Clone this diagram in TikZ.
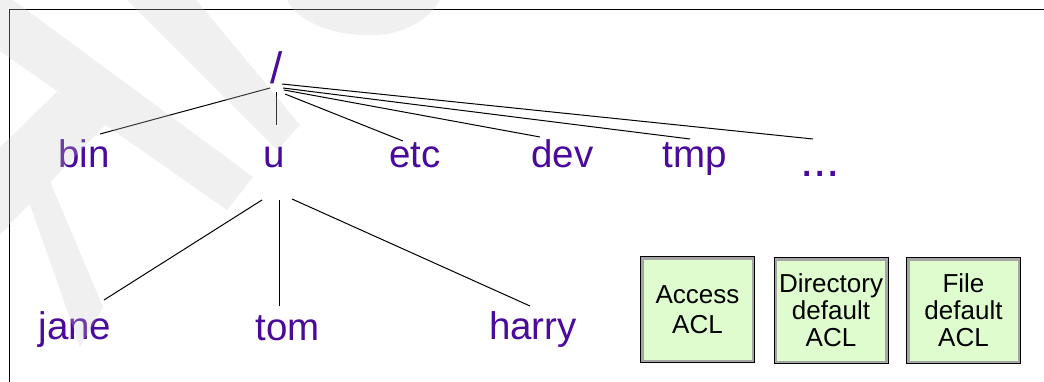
\documentclass[tikz,border=0pt]{standalone}
\usepackage{fontspec}
\setmainfont{Liberation Sans}
\definecolor{dirviolet}{RGB}{74,10,156}
\definecolor{aclfill}{RGB}{222,252,206}
\definecolor{bevel}{RGB}{165,165,165}
\definecolor{haze}{RGB}{200,200,200}
\begin{document}
\begin{tikzpicture}[x=1pt,y=-1pt,
  dirname/.style={text=dirviolet, font=\fontsize{38.5}{40}\selectfont, anchor=base, inner sep=0pt},
  link/.style={draw=black, line width=1pt},
  aclbox/.style={draw=black, line width=2pt, fill=aclfill, minimum width=113pt,
    minimum height=105pt, align=center, font=\fontsize{26}{27}\selectfont, inner sep=0pt},
]
\useasboundingbox (0,0) rectangle (1044,382);
\fill[white] (0,0) rectangle (1044,382);
% frame
\draw[line width=1pt] (9,382) -- (9,10) -- (1044,10);

% directory names
\node[dirname, font=\fontsize{44}{46}\selectfont] (root) at (277,84) {/};
\node[dirname] (bin) at (84,168) {bin};
\node[dirname] (u) at (274.5,168) {u};
\node[dirname] (etc) at (415,168) {etc};
\node[dirname] (dev) at (562.5,168) {dev};
\node[dirname] (tmp) at (694.5,168) {tmp};
\node[dirname, font=\fontsize{48}{50}\selectfont] (more) at (820,177) {...};
\node[dirname] (jane) at (75,339) {jane};
\node[dirname] (tom) at (287.5,340) {tom};
\node[dirname] (harry) at (533,339) {harry};

% links from the root
\draw[link] ([shift={(-7,4)}]root.base) -- ([shift={(16,-34)}]bin.base);
\draw[link] ([shift={(-1,8)}]root.base) -- ([shift={(1.5,-43)}]u.base);
\draw[link] ([shift={(8,10)}]root.base) -- ([shift={(-12,-27)}]etc.base);
\draw[link] ([shift={(7,6)}]root.base) -- ([shift={(-22.5,-31)}]dev.base);
\draw[link] ([shift={(6,4)}]root.base) -- ([shift={(-4.5,-29)}]tmp.base);
\draw[link] ([shift={(5,0)}]root.base) -- ([shift={(-7,-38)}]more.base);

% links from u
\draw[link] ([shift={(-12.5,32)}]u.base) -- ([shift={(29,-39)}]jane.base);
\draw[link] ([shift={(4.5,32)}]u.base) -- ([shift={(-8.5,-34)}]tom.base);
\draw[link] ([shift={(17.5,31)}]u.base) -- ([shift={(-3,-33)}]harry.base);

% ACL boxes
\node[aclbox, font=\fontsize{26}{30}\selectfont] (acc) at (697.5,309.5) {Access\\ACL};
\node[aclbox] (dir) at (831,310.5) {Directory\\default\\ACL};
\node[aclbox] (fil) at (963.5,310.5) {File\\default\\ACL};
\foreach \b in {acc,dir,fil}
  \draw[bevel, line width=2.5pt] ([shift={(2.25,2.25)}]\b.north west) rectangle ([shift={(-2.25,-2.25)}]\b.south east);

% faint diagonal marks lying over the drawing
\begin{scope}
\clip (0,0) rectangle (1044,382);
\fill[haze, opacity=0.27, nonzero rule]
  (-10,-17) -- (253,177) -- (227,210) -- (-10,44) -- cycle
  (122,-5) -- (192,-5) -- (300,125) -- (277,150) -- cycle
  (57,92) -- (107,123) -- (-10,245) -- (-10,157) -- cycle
  (46,172) -- (103,307) -- (80,347) -- (26,193) -- cycle
  (440,0) .. controls (432,15) and (410,33) .. (377,35) .. controls (340,37) and (300,25) .. (287,0) -- cycle;
\end{scope}
\end{tikzpicture}
\end{document}
